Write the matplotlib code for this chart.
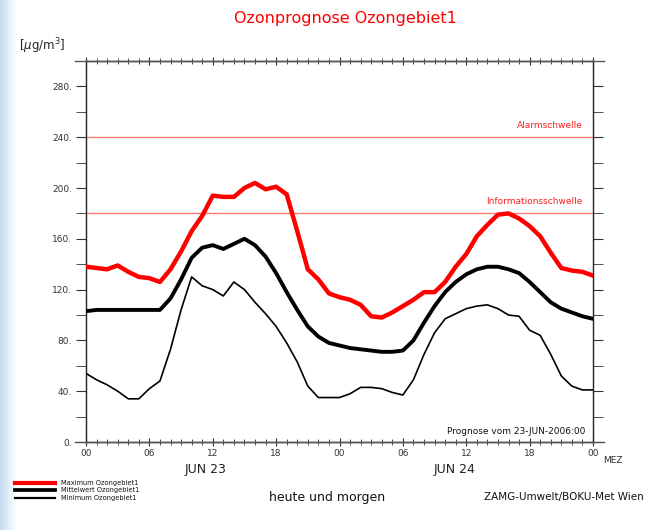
import numpy as np
import matplotlib
matplotlib.use("Agg")
import matplotlib.pyplot as plt
from matplotlib.ticker import MultipleLocator, FixedLocator

# hourly forecast, 23-JUN 00 MEZ .. 25-JUN 00 MEZ
hours = list(range(0, 49))
ozone_max = [138, 137, 136, 139, 134, 130, 129, 126, 136, 150, 166, 178, 194, 193, 193, 200, 204,
             199, 201, 195, 166, 136, 128, 117, 114, 112, 108, 99, 98, 102, 107, 112, 118, 118,
             126, 138, 148, 162, 171, 179, 180, 176, 170, 162, 149, 137, 135, 134, 131]
ozone_mean = [103, 104, 104, 104, 104, 104, 104, 104, 113, 128, 145, 153, 155, 152, 156, 160, 155,
              146, 133, 118, 104, 91, 83, 78, 76, 74, 73, 72, 71, 71, 72, 80, 94, 107, 118, 126,
              132, 136, 138, 138, 136, 133, 126, 118, 110, 105, 102, 99, 97]
ozone_min = [54, 49, 45, 40, 34, 34, 42, 48, 73, 104, 130, 123, 120, 115, 126, 120, 110, 101, 91,
             78, 63, 44, 35, 35, 35, 38, 43, 43, 42, 39, 37, 49, 69, 86, 97, 101, 105, 107, 108,
             105, 100, 99, 88, 84, 69, 52, 44, 41, 41]

thresholds = [240, 180]
threshold_names = ["Alarmschwelle", "Informationsschwelle"]
xtick_labels = ["00", "06", "12", "18", "00", "06", "12", "18", "00"]
series_names = ["Maximum Ozongebiet1", "Mittelwert Ozongebiet1", "Minimum Ozongebiet1"]

fig = plt.figure(figsize=(6.45, 5.30), dpi=100)
fig.patch.set_facecolor("white")

# light blue slide background strip on the left edge
bg = fig.add_axes([0, 0, 0.025, 1], zorder=-5)
grad = np.linspace(0, 1, 50).reshape(1, -1)
bg.imshow(grad, aspect="auto", cmap=matplotlib.colors.LinearSegmentedColormap.from_list(
    "bgc", ["#c4dcf2", "#ffffff"]), extent=[0, 1, 0, 1])
bg.axis("off")

ax = fig.add_axes([86 / 645, 88 / 530, 507 / 645, 381 / 530])
ax.set_xlim(0, 48)
ax.set_ylim(0, 300)

for val, name in zip(thresholds, threshold_names):
    ax.axhline(val, color="#ff7878", lw=1.0, zorder=1)
    ax.text(47.0, val + 6, name, color="#ff2020", fontsize=6.5, ha="right", va="bottom")

ax.plot(hours, ozone_min, color="black", lw=1.2, zorder=3)
ax.plot(hours, ozone_mean, color="black", lw=2.8, zorder=3)
ax.plot(hours, ozone_max, color="#ff0000", lw=3.2, zorder=4)

ax.xaxis.set_major_locator(FixedLocator(range(0, 49, 6)))
ax.xaxis.set_minor_locator(MultipleLocator(1))
ax.set_xticklabels(xtick_labels)
ax.set_yticks(range(0, 281, 40))
ax.set_yticklabels([f"{v}." for v in range(0, 281, 40)])
ax.yaxis.set_minor_locator(MultipleLocator(20))

ax.tick_params(axis="x", which="both", direction="inout", top=True, bottom=True,
               labelsize=6.5, colors="#333333", pad=2)
ax.tick_params(axis="x", which="major", length=6)
ax.tick_params(axis="x", which="minor", length=5)
ax.tick_params(axis="y", which="both", direction="out", left=True, right=True,
               labelsize=6.5, colors="#333333", length=7, pad=3)
for sp in ax.spines.values():
    sp.set_linewidth(1.0)
    sp.set_color("#222222")

# axis lines run a little past the frame, as in the original
for y in (0, 300):
    ax.plot([-1.0, 49.0], [y, y], color="#555555", lw=1.0, clip_on=False, zorder=5)

ax.text(47.3, 5, "Prognose vom 23-JUN-2006:00", fontsize=6.5, ha="right", va="bottom",
        color="#111111")

fig.text(0.535, 0.965, "Ozonprognose Ozongebiet1", color="#ff0000", fontsize=11.5,
         ha="center", va="center")
fig.text(0.03, 0.912, "[$\\mu$g/m$^3$]", fontsize=8.5, ha="left", va="center", color="#222222")
fig.text(0.950, 0.131, "MEZ", fontsize=6.5, ha="center", va="center", color="#333333")
fig.text(0.318, 0.115, "JUN 23", fontsize=9, ha="center", va="center", color="#222222")
fig.text(0.705, 0.115, "JUN 24", fontsize=9, ha="center", va="center", color="#222222")
fig.text(0.507, 0.062, "heute und morgen", fontsize=9, ha="center", va="center", color="#111111")
fig.text(0.998, 0.062, "ZAMG-Umwelt/BOKU-Met Wien", fontsize=7.5, ha="right", va="center",
         color="#111111")

# legend at the bottom left
leg_colors = ["#ff0000", "black", "black"]
leg_widths = [3.0, 2.7, 1.6]
leg_y = [0.089, 0.075, 0.061]
for name, c, w, y in zip(series_names, leg_colors, leg_widths, leg_y):
    fig.add_artist(plt.Line2D([0.023, 0.085], [y, y], color=c, lw=w, transform=fig.transFigure))
    fig.text(0.095, y, name, fontsize=4.8, ha="left", va="center", color="#111111")

fig.savefig("out.png", dpi=100, facecolor=fig.get_facecolor())
